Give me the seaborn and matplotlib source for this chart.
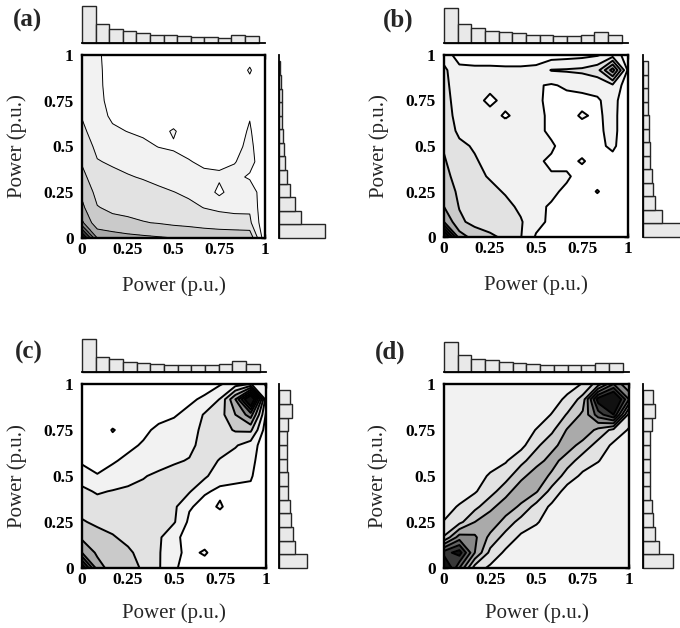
import numpy as np
import matplotlib
matplotlib.use("Agg")
import matplotlib.pyplot as plt
import seaborn as sns

sns.set_theme(style="white")
plt.rcParams["font.family"] = ["Liberation Serif", "DejaVu Serif"]
plt.rcParams["axes.edgecolor"] = "black"
plt.rcParams["xtick.color"] = "black"
plt.rcParams["ytick.color"] = "black"

# nodes of the joint frequency maps (same for x and y, in p.u.)
grid_pu = np.linspace(0.0, 1.0, 13)

# marginal histograms: 13 bins over the observed power range
hist_edges = [round(v, 4) for v in np.linspace(0.0, 0.965, 14)]
hist_centres = [0.5 * (a + b) for a, b in zip(hist_edges[:-1], hist_edges[1:])]

tick_values = [0, 0.25, 0.5, 0.75, 1]
tick_labels = ["0", "0.25", "0.5", "0.75", "1"]
panel_labels = ["(a)", "(b)", "(c)", "(d)"]
axis_label = "Power (p.u.)"

# joint frequency (contour-level units); rows: y = 0 .. 1, columns: x = 0 .. 1
density_a = np.array([
    [9.5, 5.0, 4.5, 4.3, 4.2, 4.1, 4.0, 3.9, 3.9, 3.8, 3.8, 3.8, 0.3],
    [5.2, 3.3, 3.3, 3.2, 3.05, 2.95, 2.8, 2.7, 2.5, 2.4, 2.3, 2.2, 0.2],
    [4.2, 3.05, 2.8, 2.7, 2.6, 2.5, 2.35, 2.2, 1.98, 1.85, 1.8, 1.85, 0.2],
    [3.8, 2.7, 2.45, 2.3, 2.25, 2.15, 2.02, 1.85, 1.6, 0.75, 1.55, 1.7, 0.2],
    [3.3, 2.35, 2.2, 2.05, 1.95, 1.8, 1.6, 1.5, 1.2, 1.15, 1.3, 0.85, 0.2],
    [2.9, 2.05, 1.9, 1.8, 1.6, 1.4, 1.25, 1.05, 0.85, 0.8, 0.95, 1.4, 0.2],
    [2.5, 1.8, 1.5, 1.4, 1.2, 0.98, 0.9, 0.75, 0.6, 0.55, 0.7, 1.25, 0.2],
    [2.2, 1.55, 1.15, 0.98, 0.85, 0.7, 1.1, 0.55, 0.5, 0.45, 0.6, 1.1, 0.2],
    [1.95, 1.35, 0.85, 0.7, 0.6, 0.55, 0.5, 0.45, 0.45, 0.4, 0.5, 0.95, 0.2],
    [1.8, 1.25, 0.7, 0.6, 0.55, 0.45, 0.45, 0.4, 0.4, 0.4, 0.45, 0.8, 0.2],
    [1.7, 1.2, 0.65, 0.55, 0.5, 0.45, 0.4, 0.4, 0.4, 0.35, 0.4, 0.7, 0.2],
    [1.6, 1.2, 0.6, 0.5, 0.5, 0.4, 0.4, 0.35, 0.35, 0.35, 0.4, 1.1, 0.2],
    [1.5, 1.15, 0.6, 0.5, 0.45, 0.4, 0.35, 0.35, 0.35, 0.3, 0.35, 0.6, 0.2],
])

density_b = np.array([
    [10, 4.5, 3.6, 3.2, 2.8, 2.05, 0.9, 0.7, 0.7, 0.7, 0.7, 0.7, 0.3],
    [5.0, 3.2, 2.7, 2.5, 2.4, 2.1, 1.3, 0.8, 0.6, 0.6, 0.65, 0.6, 0.3],
    [4.0, 2.95, 2.6, 2.4, 2.3, 1.8, 1.2, 0.9, 0.7, 0.6, 0.6, 0.7, 0.3],
    [3.6, 2.8, 2.5, 2.3, 1.9, 1.5, 1.3, 1.2, 0.8, 0.6, 1.05, 0.6, 0.3],
    [3.3, 2.6, 2.3, 1.9, 1.6, 1.4, 1.3, 1.05, 1.15, 0.6, 0.6, 0.65, 0.3],
    [3.1, 2.4, 2.1, 1.7, 1.5, 1.4, 1.1, 0.9, 0.7, 1.1, 0.6, 0.65, 0.3],
    [2.9, 2.2, 1.9, 1.6, 1.5, 1.35, 1.15, 1.1, 0.7, 0.6, 0.75, 1.2, 0.3],
    [2.6, 1.8, 1.6, 1.45, 1.4, 1.3, 1.2, 0.85, 0.7, 0.65, 0.8, 1.3, 0.3],
    [2.5, 1.6, 1.4, 1.3, 0.9, 1.25, 1.2, 0.85, 0.7, 1.1, 0.85, 1.3, 0.3],
    [2.4, 1.5, 1.3, 0.8, 1.25, 1.2, 1.15, 0.8, 0.7, 0.75, 0.9, 1.35, 0.3],
    [2.3, 1.4, 1.3, 1.25, 1.2, 1.2, 1.1, 0.9, 1.15, 1.25, 1.3, 1.8, 0.4],
    [2.2, 1.3, 1.25, 1.25, 1.2, 1.2, 1.3, 2.05, 2.1, 2.2, 2.6, 5.5, 0.8],
    [1.6, 0.5, 0.4, 0.4, 0.4, 0.4, 0.4, 0.5, 0.6, 0.7, 0.9, 1.5, 0.6],
])

density_c = np.array([
    [9.0, 4.5, 3.5, 3.3, 2.9, 2.1, 1.1, 0.7, 0.6, 0.5, 0.5, 0.5, 0.3],
    [5.0, 3.8, 3.3, 3.2, 2.6, 2.1, 1.2, 0.8, 1.1, 0.55, 0.6, 0.5, 0.3],
    [3.8, 3.4, 3.1, 2.7, 2.4, 2.2, 1.1, 0.85, 0.6, 0.5, 0.5, 0.5, 0.3],
    [3.1, 2.8, 2.6, 2.5, 2.3, 2.2, 2.1, 0.8, 0.6, 0.55, 0.5, 0.5, 0.3],
    [2.6, 2.4, 2.3, 2.2, 2.3, 2.4, 2.2, 1.1, 0.7, 1.1, 0.55, 0.5, 0.3],
    [2.2, 1.9, 2.05, 2.1, 2.2, 2.3, 2.4, 2.1, 1.1, 0.85, 0.8, 0.8, 0.3],
    [1.6, 1.05, 1.35, 1.8, 1.95, 2.15, 2.3, 2.4, 2.2, 1.3, 1.2, 1.1, 0.3],
    [0.8, 0.7, 0.9, 1.2, 1.5, 1.7, 1.9, 2.05, 2.3, 1.95, 1.5, 1.3, 0.3],
    [0.6, 0.6, 0.7, 0.8, 1.1, 1.4, 1.6, 1.8, 2.3, 2.3, 2.1, 1.5, 0.4],
    [0.5, 0.5, 1.05, 0.7, 0.8, 1.2, 1.4, 1.7, 2.2, 2.6, 3.1, 3.2, 0.5],
    [0.4, 0.4, 0.5, 0.5, 0.6, 0.7, 0.9, 1.3, 2.1, 2.6, 4.0, 5.5, 0.9],
    [0.3, 0.3, 0.4, 0.4, 0.5, 0.5, 0.6, 0.8, 1.2, 2.05, 5.0, 10.0, 1.5],
    [0.2, 0.2, 0.2, 0.2, 0.2, 0.2, 0.3, 0.3, 0.5, 0.9, 1.5, 2.05, 0.9],
])

density_d = np.array([
    [10, 6.0, 2.5, 1.8, 1.5, 1.4, 1.4, 1.4, 1.4, 1.4, 1.4, 1.4, 1.4],
    [7.5, 8.5, 5.0, 2.7, 1.8, 1.5, 1.4, 1.4, 1.4, 1.4, 1.4, 1.4, 1.4],
    [3.1, 5.5, 5.2, 3.7, 2.6, 1.8, 1.5, 1.4, 1.4, 1.4, 1.4, 1.4, 1.4],
    [2.05, 2.7, 4.0, 4.7, 3.6, 2.6, 2.1, 1.5, 1.4, 1.4, 1.4, 1.4, 1.4],
    [1.6, 2.1, 2.7, 3.7, 4.6, 3.8, 2.6, 1.8, 1.5, 1.4, 1.4, 1.4, 1.4],
    [1.4, 1.5, 1.9, 2.6, 3.6, 4.7, 4.1, 2.6, 1.6, 1.5, 1.4, 1.4, 1.4],
    [1.4, 1.4, 1.5, 2.15, 2.6, 3.7, 4.6, 3.8, 2.5, 1.8, 1.5, 1.4, 1.4],
    [1.4, 1.4, 1.4, 1.5, 1.9, 2.7, 3.6, 4.4, 3.5, 2.5, 2.05, 1.5, 1.4],
    [1.4, 1.4, 1.4, 1.4, 1.5, 1.7, 2.8, 3.7, 4.5, 3.6, 2.6, 1.8, 1.5],
    [1.4, 1.4, 1.4, 1.4, 1.4, 1.5, 2.05, 2.8, 4.1, 4.8, 3.7, 2.7, 1.9],
    [1.4, 1.4, 1.4, 1.4, 1.4, 1.4, 1.5, 2.05, 3.1, 4.2, 6.5, 8.0, 2.6],
    [1.4, 1.4, 1.4, 1.4, 1.4, 1.4, 1.4, 1.6, 2.2, 3.4, 8.5, 10.0, 6.0],
    [1.4, 1.4, 1.4, 1.4, 1.4, 1.4, 1.4, 1.4, 1.6, 2.05, 3.5, 6.0, 4.0],
])

# marginal distributions (% of samples per bin)
top_hist_a = [25.1, 12.6, 9.4, 8.0, 7.1, 5.7, 5.3, 4.6, 4.1, 4.1, 3.7, 5.7, 4.8]
right_hist_a = [35.6, 17.4, 12.2, 8.3, 6.2, 4.4, 3.6, 2.9, 2.3, 2.1, 2.1, 1.8, 1.0]
top_hist_b = [22.3, 11.9, 9.3, 7.8, 6.7, 6.1, 5.4, 5.0, 4.5, 4.3, 5.0, 6.7, 5.0]
right_hist_b = [30.2, 13.8, 8.9, 7.2, 6.3, 5.3, 4.8, 4.3, 4.1, 3.9, 3.6, 3.6, 3.9]
top_hist_c = [22.7, 10.4, 8.6, 7.0, 6.3, 5.8, 5.1, 4.6, 5.1, 5.1, 5.8, 7.7, 5.8]
right_hist_c = [18.1, 10.2, 9.1, 7.9, 6.8, 5.7, 5.7, 5.0, 5.0, 5.0, 5.7, 8.6, 7.3]
top_hist_d = [20.7, 12.0, 9.2, 8.0, 6.9, 6.2, 5.7, 4.6, 4.6, 4.6, 5.1, 6.2, 6.2]
right_hist_d = [20.1, 11.0, 8.0, 6.4, 5.7, 5.0, 5.0, 4.6, 4.6, 5.0, 5.7, 8.0, 6.4]

fill_levels = [-1, 1, 2, 3, 4, 5, 6, 7, 8, 100]
line_levels = [1, 2, 3, 4, 5, 6, 7, 8]
band_colors = ["#ffffff", "#f2f2f2", "#e2e2e2", "#cacaca", "#aaaaaa",
               "#878787", "#626262", "#383838", "#111111"]
bar_face = "#e9e9e9"
bar_edge = "#262626"

FIG_W, FIG_H = 680, 628
fig = plt.figure(figsize=(FIG_W / 100, FIG_H / 100), dpi=100)


def px_box(x, y, w, h):
    return [x / FIG_W, 1 - (y + h) / FIG_H, w / FIG_W, h / FIG_H]


panels = [
    dict(dens=density_a, top=top_hist_a, right=right_hist_a,
         main=(82, 55, 183, 183), tbox=(82, 6, 183, 37), rbox=(279, 55, 46, 183),
         label=(28, 20), lw=0.7, xlab=-0.21),
    dict(dens=density_b, top=top_hist_b, right=right_hist_b,
         main=(444, 55, 184, 182), tbox=(444, 8, 184, 35), rbox=(643, 55, 42, 182),
         label=(398, 20), lw=1.4, xlab=-0.21),
    dict(dens=density_c, top=top_hist_c, right=right_hist_c,
         main=(82, 384, 184, 184), tbox=(82, 339, 184, 33), rbox=(279, 384, 28, 184),
         label=(29, 352), lw=1.4, xlab=-0.19),
    dict(dens=density_d, top=top_hist_d, right=right_hist_d,
         main=(444, 384, 185, 184), tbox=(444, 342, 185, 30), rbox=(643, 384, 30, 184),
         label=(390, 352), lw=1.4, xlab=-0.19),
]

for name, p in zip(panel_labels, panels):
    # joint frequency map
    ax = fig.add_axes(px_box(*p["main"]))
    ax.contourf(grid_pu, grid_pu, p["dens"], levels=fill_levels, colors=band_colors)
    ax.contour(grid_pu, grid_pu, p["dens"], levels=line_levels, colors="black",
               linewidths=p["lw"])
    ax.set_xlim(0, 1)
    ax.set_ylim(0, 1)
    ax.set_xticks(tick_values)
    ax.set_yticks(tick_values)
    ax.set_xticklabels(tick_labels, fontweight="bold", fontsize=12.5)
    ax.set_yticklabels(tick_labels, fontweight="bold", fontsize=12.5)
    ax.tick_params(axis="x", direction="in", top=True, bottom=True, length=3,
                   width=1, pad=3)
    ax.tick_params(axis="y", direction="in", left=True, right=True, length=3,
                   width=1, pad=6)
    for s in ax.spines.values():
        s.set_linewidth(1.7)
        s.set_color("black")
        s.set_zorder(5)
    ax.set_xlabel(axis_label, fontsize=15)
    ax.set_ylabel(axis_label, fontsize=15)
    ax.xaxis.set_label_coords(0.5, p["xlab"])
    ax.yaxis.set_label_coords(-0.30, 0.5)

    # marginal of the x variable
    axt = fig.add_axes(px_box(*p["tbox"]))
    sns.histplot(x=hist_centres, weights=p["top"], bins=hist_edges, ax=axt,
                 color=bar_face, edgecolor=bar_edge, linewidth=1.0, alpha=1.0)
    axt.set_xlim(0, 1)
    axt.set_ylim(0, max(p["top"]))
    axt.set(xlabel="", ylabel="", xticks=[], yticks=[])
    for side in ("top", "right", "left"):
        axt.spines[side].set_visible(False)
    axt.spines["bottom"].set_linewidth(1.3)
    axt.spines["bottom"].set_color("black")
    for patch in axt.patches:
        patch.set_clip_on(False)

    # marginal of the y variable
    axr = fig.add_axes(px_box(*p["rbox"]))
    sns.histplot(y=hist_centres, weights=p["right"], bins=hist_edges, ax=axr,
                 color=bar_face, edgecolor=bar_edge, linewidth=1.0, alpha=1.0)
    axr.set_ylim(0, 1)
    axr.set_xlim(0, max(p["right"]))
    axr.set(xlabel="", ylabel="", xticks=[], yticks=[])
    for side in ("top", "right", "bottom"):
        axr.spines[side].set_visible(False)
    axr.spines["left"].set_linewidth(1.3)
    axr.spines["left"].set_color("black")
    for patch in axr.patches:
        patch.set_clip_on(False)

    fig.text(p["label"][0] / FIG_W, 1 - p["label"][1] / FIG_H, name,
             ha="center", va="center", fontsize=18, fontweight="bold")

fig.savefig("out.png", dpi=100)
